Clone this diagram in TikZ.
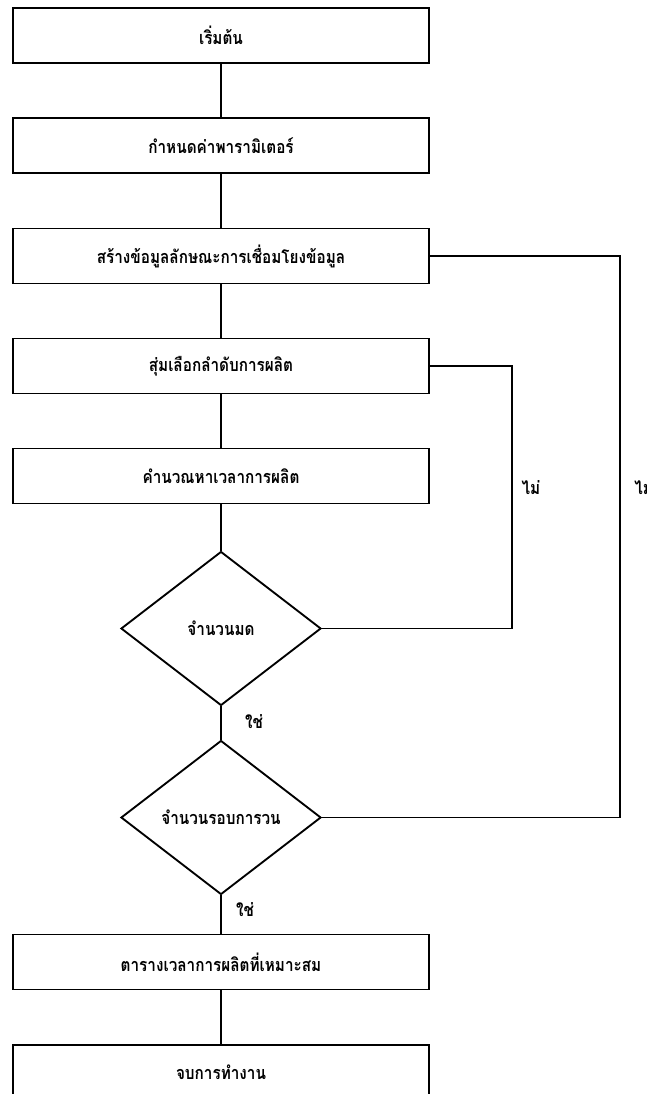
\documentclass[tikz,border=0pt]{standalone}
\usepackage{fontspec}
\newfontfamily\thaifont[Script=Thai,FakeStretch=0.85]{Loma}
\usetikzlibrary{shapes.geometric}
\begin{document}
\begin{tikzpicture}[x=0.75pt,y=-0.75pt,
  every node/.style={font=\thaifont\bfseries\fontsize{13.5}{16}\selectfont},
  procbox/.style={draw,line width=1.4pt,rectangle,minimum width=312pt,minimum height=41.25pt,inner sep=0pt},
  decision/.style={draw,line width=1.4pt,diamond,minimum width=150pt,minimum height=115.5pt,inner sep=0pt},
  link/.style={line width=1.4pt},
  lbl/.style={inner sep=0pt}]
\useasboundingbox (0,0) rectangle (646,1094);
% process steps
\node[procbox] (b1) at (221,35.5) {เริ่มต้น};
\node[procbox] (b2) at (221,145.5) {กำหนดค่าพารามิเตอร์};
\node[procbox] (b3) at (221,256) {สร้างข้อมูลลักษณะการเชื่อมโยงข้อมูล};
\node[procbox] (b4) at (221,366) {สุ่มเลือกลำดับการผลิต};
\node[procbox] (b5) at (221,476) {คำนวณหาเวลาการผลิต};
\node[decision] (d1) at (221,628.5) {จำนวนมด};
\node[decision] (d2) at (221,817.5) {จำนวนรอบการวน};
\node[procbox] (b6) at (221,962) {ตารางเวลาการผลิตที่เหมาะสม};
\node[procbox] (b7) at (221,1072.5) {จบการทำงาน};
% main flow
\draw[link] (b1) -- (b2);
\draw[link] (b2) -- (b3);
\draw[link] (b3) -- (b4);
\draw[link] (b4) -- (b5);
\draw[link] (b5) -- (d1);
\draw[link] (d1) -- (d2);
\draw[link] (d2) -- (b6);
\draw[link] (b6) -- (b7);
% feedback loops
\coordinate (r1) at (512,0);
\coordinate (r2) at (620,0);
\draw[link] (d1.east) -- (d1.east -| r1) -- (b4.east -| r1) -- (b4.east);
\draw[link] (d2.east) -- (d2.east -| r2) -- (b3.east -| r2) -- (b3.east);
% branch labels
\node[lbl] (no1) at (531,488) {ไม่};
\node[lbl,anchor=west] (no2) at (634,488) {ไม่};
\node[lbl] (yes1) at (254,722) {ใช่};
\node[lbl] (yes2) at (245,910) {ใช่};
\end{tikzpicture}
\end{document}
